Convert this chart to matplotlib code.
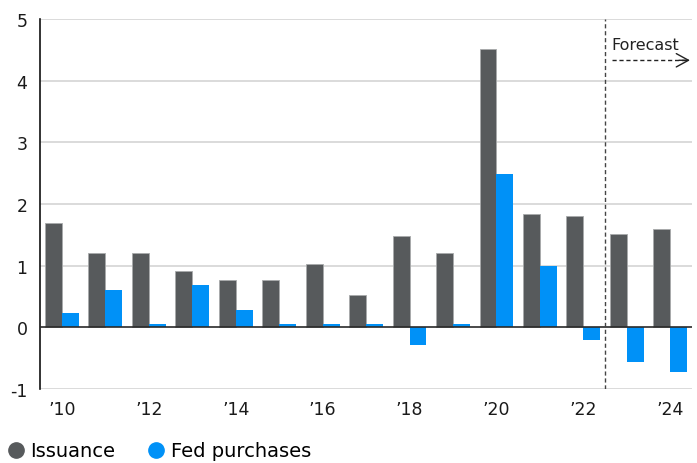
import matplotlib
matplotlib.use("Agg")
import matplotlib.pyplot as plt
from matplotlib.lines import Line2D
import numpy as np

plt.rcParams['font.family'] = ['DejaVu Sans']

years = ["’10", "’11", "’12", "’13", "’14", "’15", "’16", "’17", "’18", "’19",
         "’20", "’21", "’22", "’23", "’24"]
issuance = [1.69, 1.2, 1.2, 0.92, 0.76, 0.76, 1.03, 0.52, 1.48, 1.2, 4.52, 1.84, 1.8, 1.52, 1.6]
fed_purchases = [0.24, 0.6, 0.05, 0.68, 0.28, 0.05, 0.05, 0.05, -0.29, 0.05, 2.48, 1.0, -0.21, -0.57, -0.73]
yticks = [-1, 0, 1, 2, 3, 4, 5]

c_iss = '#575a5c'
c_fed = '#0091f7'

fig = plt.figure(figsize=(6.97, 4.64), dpi=100)
ax = fig.add_axes([0.0574, 0.1595, 0.9356, 0.7975])

x = np.arange(len(years))
w = 0.39
ax.bar(x - w/2, issuance, w, color=c_iss, edgecolor='#a8aaab', linewidth=0.6, zorder=3)
ax.bar(x + w/2, fed_purchases, w, color=c_fed, linewidth=0, zorder=3)

ax.set_xlim(-0.5, len(years) - 0.5)
ax.set_ylim(-1, 5)
ax.set_yticks(yticks)
ax.set_yticklabels([str(v) for v in yticks])
ax.set_xticks(x[::2])
ax.set_xticklabels(years[::2])
ax.tick_params(axis='both', length=0, labelsize=12.5, colors='#1a1a1a')
ax.tick_params(axis='y', pad=9)
ax.tick_params(axis='x', pad=8)

for v in yticks:
    if v != 0:
        ax.axhline(v, color='#d4d4d4', linewidth=1.2, zorder=1)
ax.axhline(0, color='#2a2a2a', linewidth=1.2, zorder=4)

for s in ['top', 'right', 'bottom']:
    ax.spines[s].set_visible(False)
ax.spines['left'].set_color('#111111')
ax.spines['left'].set_linewidth(1.2)

ax.axvline(12.5, color='#444444', linestyle=(0, (3, 2)), linewidth=1.0, zorder=5)
ax.text(12.65, 4.58, 'Forecast', fontsize=11.5, color='#222222', ha='left', va='center')
ax.plot([12.65, 14.4], [4.33, 4.33], color='#222222', linestyle=(0, (3, 2)), linewidth=1.0)
ax.annotate('', xy=(14.45, 4.33), xytext=(14.2, 4.33),
            arrowprops=dict(arrowstyle='->, head_length=0.55, head_width=0.3',
                            color='#222222', linewidth=1.0, mutation_scale=16,
                            shrinkA=0, shrinkB=0))

handles = [Line2D([], [], marker='o', linestyle='none', markersize=11, color=c_iss),
           Line2D([], [], marker='o', linestyle='none', markersize=11, color=c_fed)]
fig.legend(handles, ['Issuance', 'Fed purchases'], loc='center left',
           bbox_to_anchor=(0.0, 0.026), ncol=2, frameon=False, fontsize=14,
           handletextpad=0.25, columnspacing=1.6, handlelength=1.0,
           borderaxespad=0.0, borderpad=0.3)

fig.savefig('out.png', dpi=100)
